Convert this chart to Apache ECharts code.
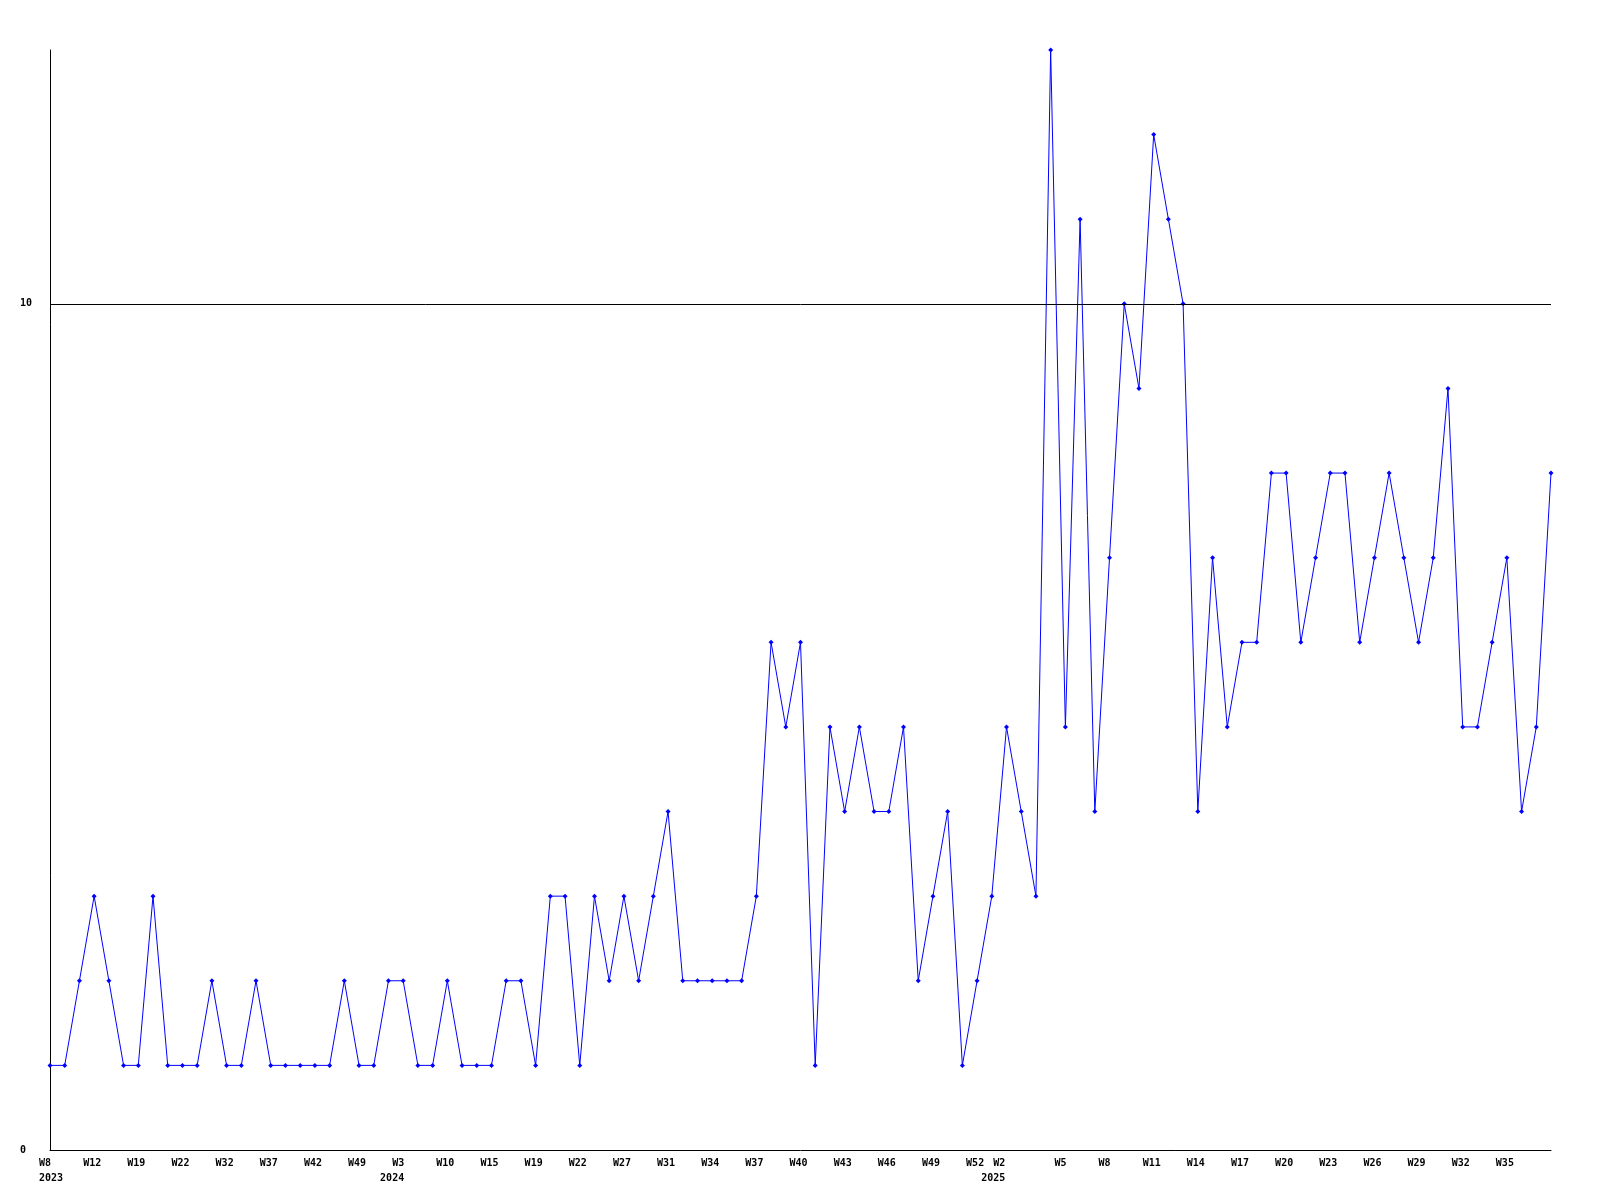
<!DOCTYPE html>
<html>
<head>
<meta charset="utf-8">
<script src="https://cdn.jsdelivr.net/npm/echarts@6/dist/echarts.min.js"></script>
<style>
	body {
		margin: 0;
		background: #ffffff;
	}

	#main {
		width: 1600px;
		height: 1200px;
	}
</style>
</head>
<body>
<div id="main"></div>
<script>
	// week labels per year (only every third one is printed on the axis)
	var weeks2023 = ['W8', 'W9', 'W11', 'W12', 'W14', 'W17', 'W19', 'W20', 'W21', 'W22', 'W25', 'W28',
		'W32', 'W33', 'W35', 'W37', 'W39', 'W40', 'W42', 'W44', 'W47', 'W49', 'W50', 'W52']
	var weeks2024 = ['W3', 'W5', 'W8', 'W10', 'W12', 'W13', 'W15', 'W16', 'W18', 'W19', 'W20', 'W21',
		'W22', 'W24', 'W26', 'W27', 'W29', 'W30', 'W31', 'W32', 'W33', 'W34', 'W35', 'W36', 'W37',
		'W38', 'W39', 'W40', 'W41', 'W42', 'W43', 'W44', 'W45', 'W46', 'W47', 'W48', 'W49', 'W50',
		'W51', 'W52', 'W1']
	var weeks2025 = ['W1', 'W2', 'W3', 'W4', 'W5', 'W6', 'W7', 'W8', 'W9', 'W10', 'W11', 'W12', 'W13',
		'W14', 'W15', 'W16', 'W17', 'W18', 'W19', 'W20', 'W21', 'W22', 'W23', 'W24', 'W25', 'W26',
		'W27', 'W28', 'W29', 'W30', 'W31', 'W32', 'W33', 'W34', 'W35', 'W36', 'W37', 'W38']

	var counts = [1, 1, 2, 3, 2, 1, 1, 3, 1, 1, 1, 2, 1, 1, 2, 1,
		1, 1, 1, 1, 2, 1, 1, 2, 2, 1, 1, 2, 1, 1, 1, 2, 2, 1,
		3, 3, 1, 3, 2, 3, 2, 3, 4, 2, 2, 2, 2, 2, 3, 6, 5, 6,
		1, 5, 4, 5, 4, 4, 5, 2, 3, 4, 1, 2, 3, 5, 4, 3, 13, 5,
		11, 4, 7, 10, 9, 12, 11, 10, 4, 7, 5, 6, 6, 8, 8, 6, 7, 8,
		8, 6, 7, 8, 7, 6, 7, 9, 5, 5, 6, 7, 4, 5, 8]

	var yTicks = [0, 10]

	var categories = []
	weeks2023.forEach(function(w) { categories.push('2023-' + w) })
	weeks2024.forEach(function(w) { categories.push('2024-' + w) })
	weeks2025.forEach(function(w) { categories.push('2025-' + w) })

	function yearOf(i) {
		return categories[i].split('-')[0]
	}

	function showLabel(i) {
		return i % 3 === 0 && i < categories.length - 1
	}

	// first labelled week of a new year gets the year below it, right-aligned
	var axisData = categories.map(function(c, i) {
		if (i > 0 && showLabel(i) && yearOf(i) !== yearOf(i - 3)) {
			var shift = categories[i - 1].split('-')[1] === 'W1' ? 16 : -1
			return {
				value: c,
				textStyle: {
					align: 'right',
					padding: [0, shift, 0, 0]
				}
			}
		}
		return c
	})

	var font = {
		fontFamily: 'DejaVu Sans Mono',
		fontWeight: 'bold',
		fontSize: 10,
		color: '#000000'
	}

	var chart = echarts.init(document.getElementById('main'))
	chart.setOption({
		animation: false,
		backgroundColor: '#ffffff',
		grid: {
			left: 50,
			right: 49,
			top: 50,
			bottom: 50
		},
		xAxis: {
			type: 'category',
			boundaryGap: false,
			data: axisData,
			axisLine: {
				lineStyle: {
					color: '#000000',
					width: 1
				}
			},
			axisTick: {
				show: false
			},
			axisLabel: Object.assign({
				interval: function(index) {
					return showLabel(index)
				},
				margin: 6,
				align: 'left',
				padding: [0, 0, 0, -11],
				lineHeight: 15,
				formatter: function(value, index) {
					var parts = value.split('-')
					if (index === 0 || yearOf(index) !== yearOf(index - 3)) {
						return parts[1] + '\n' + parts[0]
					}
					return parts[1]
				}
			}, font)
		},
		yAxis: {
			type: 'value',
			min: 0,
			max: 13,
			interval: 10,
			axisLine: {
				show: true,
				lineStyle: {
					color: '#000000',
					width: 1
				}
			},
			axisTick: {
				show: false
			},
			splitLine: {
				show: false
			},
			axisLabel: Object.assign({
				margin: 30,
				align: 'left',
				showMaxLabel: false,
				formatter: function(v) {
					return yTicks.indexOf(v) >= 0 ? String(v) : ''
				}
			}, font)
		},
		series: [{
			type: 'line',
			data: counts,
			symbol: 'diamond',
			symbolSize: 5,
			lineStyle: {
				color: '#0000ff',
				width: 1
			},
			itemStyle: {
				color: '#0000ff'
			},
			markLine: {
				silent: true,
				symbol: 'none',
				label: {
					show: false
				},
				lineStyle: {
					color: '#000000',
					width: 1,
					type: 'solid'
				},
				data: [{
					yAxis: yTicks[1]
				}]
			}
		}]
	})
</script>
</body>
</html>
